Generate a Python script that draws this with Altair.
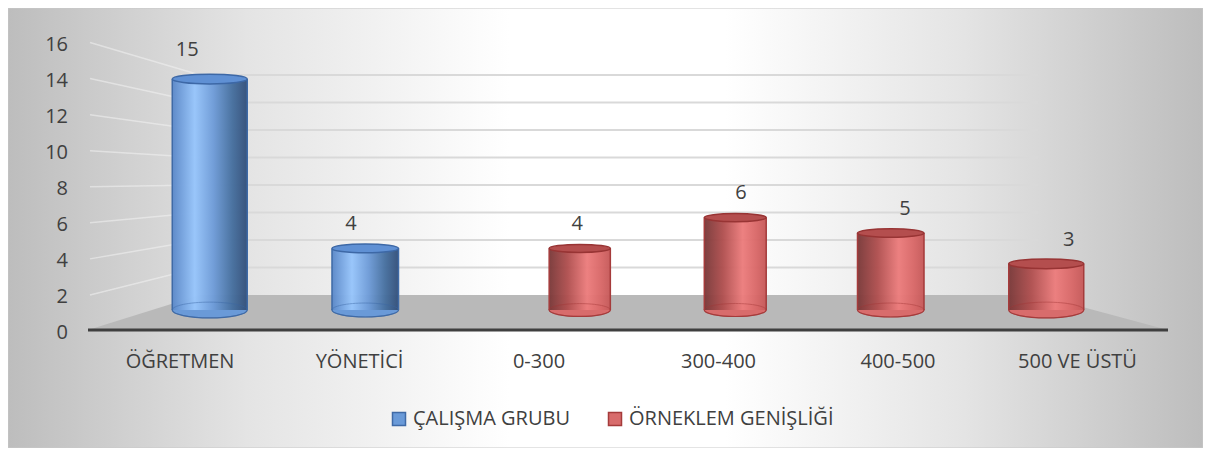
import altair as alt
import pandas as pd

# ---------------- data ----------------
categories = ["ÖĞRETMEN", "YÖNETİCİ", "0-300", "300-400", "400-500", "500 VE ÜSTÜ"]
series_of = ["ÇALIŞMA GRUBU", "ÇALIŞMA GRUBU", "ÖRNEKLEM GENİŞLİĞİ",
             "ÖRNEKLEM GENİŞLİĞİ", "ÖRNEKLEM GENİŞLİĞİ", "ÖRNEKLEM GENİŞLİĞİ"]
values = [15, 4, 4, 6, 5, 3]
series_names = ["ÇALIŞMA GRUBU", "ÖRNEKLEM GENİŞLİĞİ"]
ticks = [0, 2, 4, 6, 8, 10, 12, 14, 16]

# ---------------- layout (plot pixels) ----------------
W, H = 1195, 440
MID_BASE, MID_K = 302.0, 15.4        # bar plane: value 0 row, px per unit
MID_CX, MID_STEP = 620.0, 155.5      # bar plane centre & category step
SER_OFF = 29.5                       # cluster offset of the two series
X0 = MID_CX - 2.5 * MID_STEP

FRONT_BASE, FRONT_K = 322.0, 18.03   # front (axis) plane
FRONT_L, FRONT_R = 80.0, 1160.0
BACK_BASE, BACK_K = 287.0, 13.75     # back wall plane
BACK_L, BACK_R = 192.0, 1030.0
CAT_X0, CAT_STEP = 172.0, 179.5
FONT = "Open Sans"
TXT = "#404040"


def ux(px):
    return (px - X0) / MID_STEP


def vy(py):
    return (MID_BASE - py) / MID_K


xs = alt.Scale(domain=[ux(0), ux(W)], nice=False, zero=False)
ys = alt.Scale(domain=[vy(H), vy(0)], nice=False, zero=False)

# bars table
rows = []
for i, (c, s, v) in enumerate(zip(categories, series_of, values)):
    off = -SER_OFF if s == series_names[0] else SER_OFF
    xc = X0 + MID_STEP * i + off
    w = 61 + 8e-5 * (xc - MID_CX) ** 2
    rows.append(dict(cat=c, series=s, value=v, base=0,
                     u=ux(xc), xl=ux(xc - w / 2), xr=ux(xc + w / 2), sz=w * w,
                     lx=ux(xc + 0.054 * (xc - MID_CX)),
                     ly=v + (18 + 0.5 * (v - 4)) / MID_K))
bars = pd.DataFrame(rows)

# decoration tables
bg = pd.DataFrame({"a": [0]})
left_wall = pd.DataFrame([dict(x=ux(FRONT_L + 2), y=vy(FRONT_BASE + 1 - FRONT_K * t),
                               x2=ux(BACK_L), y2=vy(BACK_BASE - BACK_K * t))
                          for t in ticks if t > 0])
back_wall = pd.DataFrame([dict(x=ux(BACK_L), x2=ux(BACK_R), y=vy(BACK_BASE - BACK_K * t))
                          for t in ticks if t > 0])
floor = pd.DataFrame([
    dict(x=ux(FRONT_L), y=vy(FRONT_BASE), y2=vy(FRONT_BASE)),
    dict(x=ux(BACK_L), y=vy(BACK_BASE), y2=vy(FRONT_BASE)),
    dict(x=ux(BACK_R), y=vy(BACK_BASE), y2=vy(FRONT_BASE)),
    dict(x=ux(FRONT_R), y=vy(FRONT_BASE), y2=vy(FRONT_BASE)),
])
axis_line = pd.DataFrame([dict(x=ux(FRONT_L), x2=ux(FRONT_R), y=vy(FRONT_BASE))])
tick_df = pd.DataFrame([dict(label=str(t), x=ux(60), y=vy(FRONT_BASE + 9 - FRONT_K * t))
                        for t in ticks])
cat_df = pd.DataFrame([dict(label=c, x=ux(CAT_X0 + CAT_STEP * i), y=vy(360))
                       for i, c in enumerate(categories)])

X = lambda f: alt.X(f, type="quantitative", scale=xs, axis=None)
Y = lambda f: alt.Y(f, type="quantitative", scale=ys, axis=None)

layers = []

background = alt.Chart(bg).mark_rect(
    fill=alt.LinearGradient(gradient="linear", x1=0, x2=1, y1=0, y2=0, stops=[
        alt.GradientStop(color="#bdbdbd", offset=0),
        alt.GradientStop(color="#e4e4e4", offset=0.2),
        alt.GradientStop(color="#ffffff", offset=0.42),
        alt.GradientStop(color="#ffffff", offset=0.6),
        alt.GradientStop(color="#e4e4e4", offset=0.8),
        alt.GradientStop(color="#bdbdbd", offset=1)]),
    stroke="#c8c8c8", strokeWidth=1
).encode(x=alt.value(0), x2=alt.value(W), y=alt.value(0), y2=alt.value(H))
layers.append(background)

layers.append(alt.Chart(left_wall).mark_rule(color="#f2f2f2", strokeWidth=1.5, opacity=0.55)
              .encode(x=X("x"), y=Y("y"), x2="x2", y2="y2"))
layers.append(alt.Chart(back_wall).mark_rule(color="#d9d9d9", strokeWidth=2)
              .encode(x=X("x"), x2="x2", y=Y("y")))
layers.append(alt.Chart(floor).mark_area(color="#b9b9b9", interpolate="linear", opacity=1)
              .encode(x=X("x"), y=Y("y"), y2="y2"))
layers.append(alt.Chart(axis_line).mark_rule(color="#3f3f3f", strokeWidth=3)
              .encode(x=X("x"), x2="x2", y=Y("y")))
layers.append(alt.Chart(tick_df).mark_text(font=FONT, fontSize=20, color=TXT, align="right",
                                           baseline="alphabetic")
              .encode(x=X("x"), y=Y("y"), text="label:N"))
layers.append(alt.Chart(cat_df).mark_text(font=FONT, fontSize=20, color=TXT, align="center",
                                          baseline="alphabetic")
              .encode(x=X("x"), y=Y("y"), text="label:N"))

TOP_SHAPE = "M-1,0A1,0.13,0,1,0,1,0A1,0.13,0,1,0,-1,0Z"
BOT_SHAPE = "M-1,0A1,0.21,0,1,0,1,0A1,0.21,0,1,0,-1,0Z"

fill_scale = alt.Scale(domain=series_names, range=["#6a9ad8", "#d86c6c"])
stroke_scale = alt.Scale(domain=series_names, range=["#3f6aa6", "#a53b3b"])

# bottom ellipses (carry the legend)
layers.append(alt.Chart(bars).mark_point(shape=BOT_SHAPE, filled=True, opacity=1, strokeWidth=1.2)
              .encode(x=X("u"), y=Y("base"),
                      size=alt.Size("sz:Q", scale=None),
                      fill=alt.Fill("series:N", scale=fill_scale, title=None),
                      stroke=alt.Stroke("series:N", scale=stroke_scale, title=None)))

styles = {
    series_names[0]: dict(
        grad=[("#5b88c8", 0), ("#97c5fb", 0.3), ("#6f9cd8", 0.55), ("#47709f", 0.8), ("#34507a", 1)],
        edge="#3f6aa6", cap="#5f90d4", capstroke="#3d68a6"),
    series_names[1]: dict(
        grad=[("#7a3a3a", 0), ("#b05050", 0.3), ("#ec7d7d", 0.62), ("#d86868", 0.85), ("#c65a5a", 1)],
        edge="#a53b3b", cap="#b44e4e", capstroke="#983434"),
}

for s in series_names:
    st = styles[s]
    base = alt.Chart(bars).transform_filter(alt.datum.series == s)
    grad = alt.LinearGradient(gradient="linear", x1=0, x2=1, y1=0, y2=0,
                              stops=[alt.GradientStop(color=c, offset=o) for c, o in st["grad"]])
    layers.append(base.mark_rect(fill=grad, opacity=0.97)
                  .encode(x=X("xl"), x2="xr", y=Y("value"), y2="base"))
    layers.append(base.mark_point(shape=BOT_SHAPE, filled=False, color=st["edge"],
                                  opacity=0.45, strokeWidth=1)
                  .encode(x=X("u"), y=Y("base"), size=alt.Size("sz:Q", scale=None)))
    layers.append(base.mark_rule(color=st["edge"], strokeWidth=1.5)
                  .encode(x=X("xl"), y=Y("value"), y2="base"))
    layers.append(base.mark_rule(color=st["edge"], strokeWidth=1.5)
                  .encode(x=X("xr"), y=Y("value"), y2="base"))
    layers.append(base.mark_point(shape=TOP_SHAPE, filled=True, fill=st["cap"],
                                  stroke=st["capstroke"], strokeWidth=1.5, opacity=1)
                  .encode(x=X("u"), y=Y("value"), size=alt.Size("sz:Q", scale=None)))

layers.append(alt.Chart(bars).mark_text(font=FONT, fontSize=20, color=TXT, align="center",
                                        baseline="alphabetic")
              .encode(x=X("lx"), y=Y("ly"), text="value:Q"))

chart = alt.layer(*layers).properties(
    width=W, height=H, padding=0, autosize=alt.AutoSizeParams(type="none")
).configure_view(stroke=None).configure_legend(
    orient="none", legendX=381, legendY=401, direction="horizontal",
    symbolType="square", symbolSize=169, symbolStrokeWidth=1.5, symbolOpacity=1,
    labelFont=FONT, labelFontSize=20, labelColor=TXT, labelOffset=4, labelLimit=0,
    columnPadding=34, padding=0, titlePadding=0
)

chart.save("out.html", embed_options={"renderer": "svg", "actions": False})
